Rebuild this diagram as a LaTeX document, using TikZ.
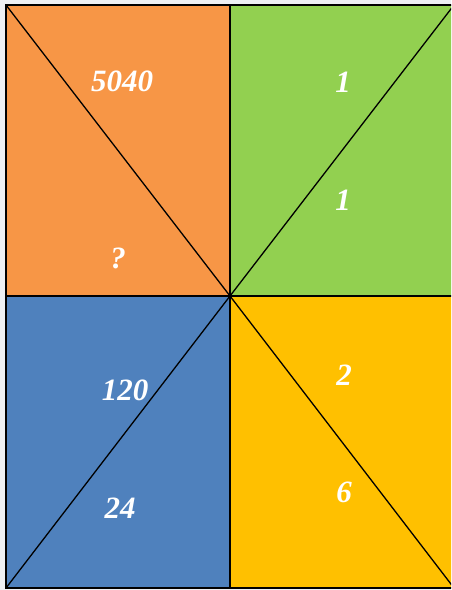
\documentclass[tikz,border=0pt]{standalone}
\usepackage{fontspec}
\setmainfont{Liberation Serif}
\definecolor{bggray}{HTML}{EEF0F3}
\definecolor{qorange}{HTML}{F79646}
\definecolor{qgreen}{HTML}{92D050}
\definecolor{qblue}{HTML}{4F81BD}
\definecolor{qgold}{HTML}{FFC000}
\tikzset{
  num/.style={text=white, font=\fontsize{31}{33}\selectfont\bfseries\itshape, inner sep=0pt},
  diag/.style={draw=black, line width=1.3pt},
  border/.style={draw=black, line width=2pt}
}
\begin{document}
\begin{tikzpicture}[x=1pt,y=-1pt]
\useasboundingbox (0,0) rectangle (451,590);
\fill[bggray] (0,0) rectangle (451,590);
\begin{scope}
\clip (0,0) rectangle (451,590);
\coordinate (TL) at (6,5);
\coordinate (TR) at (454,5);
\coordinate (BL) at (6,588);
\coordinate (BR) at (454,588);
\coordinate (C) at (230,296);
\coordinate (TM) at (230,5);
\coordinate (BM) at (230,588);
\coordinate (LM) at (6,296);
\coordinate (RM) at (454,296);
\fill[qorange] (TL) rectangle (C);
\fill[qgreen] (TM) rectangle (RM);
\fill[qblue] (LM) rectangle (BM);
\fill[qgold] (C) rectangle (BR);
\draw[diag] (TL) -- (C);
\draw[diag] (C) -- (TR);
\draw[diag] (BL) -- (C);
\draw[diag] (C) -- (BR);
\draw[border] (TL) rectangle (BR);
\draw[border] (TM) -- (BM);
\draw[border] (LM) -- (RM);
\end{scope}
\node[num] (n5040) at (122,81) {5040};
\node[num] (nq) at (118,258) {?};
\node[num] (n1a) at (343,82) {1};
\node[num] (n1b) at (343,200) {1};
\node[num] (n120) at (125,390) {120};
\node[num] (n24) at (120,508) {24};
\node[num] (n2) at (344,375) {2};
\node[num] (n6) at (344,492) {6};
\end{tikzpicture}
\end{document}
